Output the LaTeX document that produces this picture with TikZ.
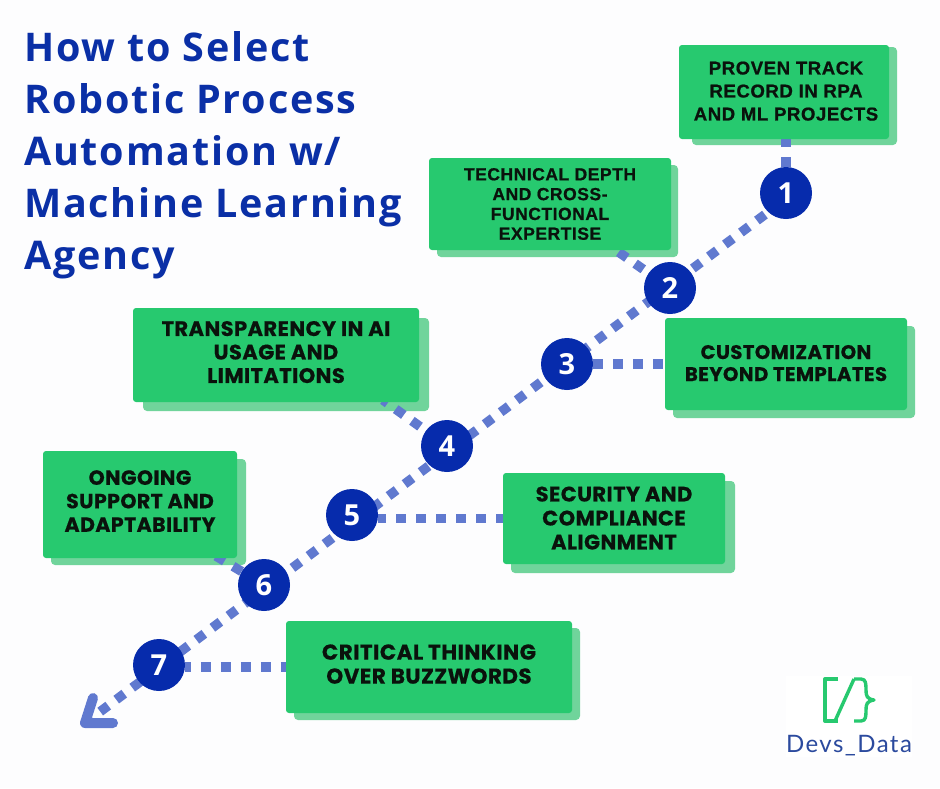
\documentclass[tikz,border=0pt]{standalone}
\usepackage{fontspec}
\setmainfont{Open Sans}
\newfontfamily\titlefont[LetterSpace=4.5]{Open Sans}
\newfontfamily\boxfont[LetterSpace=2,FakeBold=0.5]{Poppins}
\newfontfamily\armfont[LetterSpace=3,FakeBold=0.8]{Liberation Sans}
\newfontfamily\logofont[LetterSpace=6]{Lato}
\newcommand{\liftby}[1]{\rule[-#1]{0pt}{#1}}
\definecolor{pagebg}{HTML}{FDFDFE}
\definecolor{navy}{HTML}{062BAC}
\definecolor{titleblue}{HTML}{0A2FA6}
\definecolor{boxgreen}{HTML}{27C96F}
\definecolor{shadowgreen}{HTML}{70D49B}
\definecolor{dotblue}{HTML}{6079CF}
\definecolor{logoblue}{HTML}{2B4A9E}
\definecolor{inkdark}{HTML}{0A120C}
\pgfdeclarelayer{shadowlayer}
\pgfdeclarelayer{wirelayer}
\pgfsetlayers{shadowlayer,wirelayer,main}
\tikzset{
  x=1pt,y=-1pt,
  back/.style={fill=shadowgreen,rounded corners=4pt},
  card/.style={fill=boxgreen,rounded corners=3pt,text=inkdark,align=center,inner sep=0pt,outer sep=0pt},
  dotline/.style={draw=dotblue,line width=9.5pt,dash pattern=on 10pt off 10pt},
  badge/.style={circle,fill=navy,text=white,minimum size=52pt,inner sep=0pt,font=\fontsize{29}{29}\selectfont\bfseries},
  titleline/.style={anchor=base west,inner sep=0pt,text=titleblue,font=\fontsize{39.5}{39.5}\titlefont\bfseries}
}
\begin{document}
\begin{tikzpicture}
\begin{pgfonlayer}{shadowlayer}
\path[use as bounding box,fill=pagebg] (0,0) rectangle (940,788);
\fill[back] (692,47) rectangle (897,145);
\fill[back] (437,165) rectangle (678,257);
\fill[back] (673,326) rectangle (915,418);
\fill[back] (143,318) rectangle (429,411);
\fill[back] (51,459) rectangle (246,565);
\fill[back] (511,481) rectangle (735,573);
\fill[back] (294,628) rectangle (580,720);
\end{pgfonlayer}
% title
\node[titleline] (t1) at (24,61) {How to Select};
\node[titleline] (t2) at (24,113) {Robotic Process};
\node[titleline] (t3) at (24,165) {Automation w/};
\node[titleline] (t4) at (24,217) {Machine Learning};
\node[titleline] (t5) at (24,269) {Agency};
% boxes
\node[card,minimum width=210pt,minimum height=94pt,font=\fontsize{18.6}{23}\armfont\bfseries] (b1) at (784,92) {\hspace*{4pt}PROVEN TRACK\\\hspace*{4pt}RECORD IN RPA\\\hspace*{4pt}AND ML PROJECTS\liftby{2pt}};
\node[card,minimum width=242pt,minimum height=92pt,font=\fontsize{17.5}{19.8}\armfont\bfseries] (b2) at (550,204) {TECHNICAL DEPTH\\AND CROSS-\\FUNCTIONAL\\EXPERTISE};
\node[card,minimum width=242pt,minimum height=92pt,font=\fontsize{19.7}{22}\boxfont\bfseries] (b3) at (786,364) {CUSTOMIZATION\\BEYOND TEMPLATES\liftby{2pt}};
\node[card,minimum width=286pt,minimum height=94pt,font=\fontsize{21}{23.5}\boxfont\bfseries] (b4) at (276,355) {TRANSPARENCY IN AI\\USAGE AND\\LIMITATIONS\liftby{6pt}};
\node[card,minimum width=222pt,minimum height=91pt,font=\fontsize{21}{24}\boxfont\bfseries] (b5) at (614,518.5) {SECURITY AND\\COMPLIANCE\\ALIGNMENT\liftby{1pt}};
\node[card,minimum width=194pt,minimum height=107pt,font=\fontsize{20.5}{23.5}\boxfont\bfseries] (b6) at (140,504.5) {ONGOING\\SUPPORT AND\\ADAPTABILITY\liftby{7pt}};
\node[card,minimum width=286pt,minimum height=92pt,font=\fontsize{21.5}{24}\boxfont\bfseries] (b7) at (429,667) {CRITICAL THINKING\\OVER BUZZWORDS\liftby{6pt}};
% badges
\node[badge] (n1) at (786,193) {1};
\node[badge] (n2) at (670,288) {2};
\node[badge] (n3) at (567,364) {3};
\node[badge] (n4) at (447,446) {4};
\node[badge] (n5) at (352,515) {5};
\node[badge] (n6) at (264,585) {6};
\node[badge] (n7) at (159,665) {7};
\coordinate (tip) at (85,723);
\coordinate (headA) at (93,698);
\coordinate (headB) at (113,723);
\coordinate (c4) at (383,400);
\coordinate (c6) at (216,556);
% connectors
\begin{pgfonlayer}{wirelayer}
\draw[dotline,dash phase=16pt] (n1.227) -- (tip);
\draw[dotline,dash phase=2pt] (n1.north |- b1.south) -- (n1.north);
\draw[dotline,dash phase=13.6pt] (n2) -- (b2);
\draw[dotline] (n3.east) -- (b3.west);
\draw[dotline,dash phase=13pt] (n4) -- (c4);
\draw[dotline,dash phase=2pt] (n5.east |- b5.west) -- (b5.west);
\draw[dotline] (n6) -- (c6);
\draw[dotline,dash phase=4.3pt] (n7.east |- b7.west) -- (b7.west);
\draw[draw=dotblue,line width=10pt,line cap=round,line join=round] (headA) -- (tip) -- (headB);
\end{pgfonlayer}
% logo
\fill[white] (786,676) rectangle (912,757);
\begin{scope}[draw=boxgreen,line width=3.4pt,line join=round]
\draw (838,679) -- (825,679) -- (825,721) -- (838,721);
\draw (835,721) -- (854,679);
\draw (854,679) -- (861,679) .. controls (866,679) and (866,684) .. (866,690) .. controls (866,696) and (867,699) .. (874,700) .. controls (867,701) and (866,704) .. (866,710) .. controls (866,716) and (866,721) .. (861,721) -- (854,721);
\end{scope}
\node[inner sep=0pt,text=logoblue,font=\fontsize{24}{24}\logofont] (logo) at (849,746) {Devs\_Data};
\end{tikzpicture}
\end{document}
